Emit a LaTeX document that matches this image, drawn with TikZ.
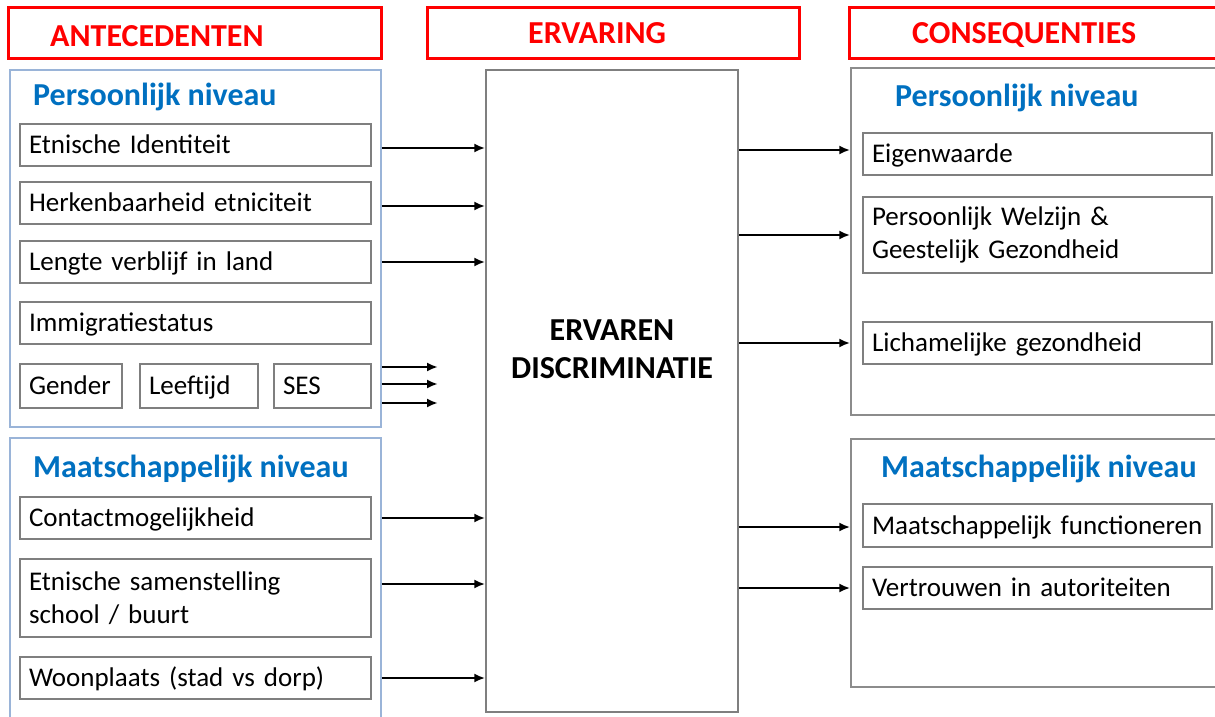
\documentclass[tikz,border=0pt]{standalone}
\usepackage{fontspec}
\setmainfont{Carlito}
\usetikzlibrary{arrows.meta}
\definecolor{kopred}{HTML}{FF0000}
\definecolor{niveaublue}{HTML}{0070C0}
\definecolor{kaderblue}{HTML}{9AB4D8}
\definecolor{kadergray}{HTML}{8C8C8C}
\definecolor{boxgray}{HTML}{7F7F7F}
\begin{document}
\begin{tikzpicture}[x=1pt, y=-1pt,
    kop/.style={draw=kopred, line width=3pt, minimum height=51pt, inner sep=0pt},
    koptekst/.style={text=kopred, font=\fontsize{32}{36}\selectfont\bfseries, inner sep=0pt},
    niveau/.style={text=niveaublue, font=\fontsize{32}{36}\selectfont\bfseries, inner sep=0pt, anchor=west},
    kader/.style={draw=#1, line width=1.5pt, inner sep=0pt},
    factor/.style={draw=boxgray, line width=1.4pt, minimum height=42pt, inner xsep=9pt, inner ysep=0pt,
        text width=#1, align=left, font=\fontsize{27}{32.5}\selectfont},
    enkel/.style={text height=22pt, text depth=5pt},
    pijl/.style={line width=2.2pt, -{Latex[length=11pt,width=9pt]}}]
    \clip (0,0) rectangle (1215,717);
    % kopjes
    \node[kop, minimum width=373pt] (kopA) at (194.5,33.5) {};
    \node[kop, minimum width=372pt] (kopE) at (613,33.5) {};
    \node[kop, minimum width=381pt] (kopC) at (1039.5,33.5) {};
    \node[koptekst, anchor=west] (antTxt) at (50,36) {ANTECEDENTEN};
    \node[koptekst, anchor=west] (ervTxt) at (528,33) {ERVARING};
    \node[koptekst, anchor=west] (conTxt) at (912,35) {CONSEQUENTIES};
    % kaders
    \node[kader=kaderblue, minimum width=371pt, minimum height=357pt] (persL) at (195.5,248.5) {};
    \node[kader=kaderblue, minimum width=371pt, minimum height=302pt] (maatL) at (195.5,589) {};
    \node[kader=boxgray, minimum width=252pt, minimum height=642pt] (centre) at (612,391) {};
    \node[kader=kadergray, minimum width=379pt, minimum height=347pt] (persR) at (1040.5,241.5) {};
    \node[kader=kadergray, minimum width=379pt, minimum height=248pt] (maatR) at (1040.5,563) {};
    \node[niveau] (persLTxt) at (33,97) {Persoonlijk niveau};
    \node[niveau] (maatLTxt) at (33,469) {Maatschappelijk niveau};
    \node[niveau] (persRTxt) at (895,98) {Persoonlijk niveau};
    \node[niveau] (maatRTxt) at (881,469) {Maatschappelijk niveau};
    \node[align=center, inner sep=0pt, font=\fontsize{32}{38}\selectfont\bfseries] (ervaren) at (612,349) {ERVAREN\\DISCRIMINATIE};
    % antecedenten
    \node[factor=333pt, enkel] (ident) at (195.5,145) {Etnische Identiteit};
    \node[factor=333pt, enkel] (herken) at (195.5,203) {Herkenbaarheid etniciteit};
    \node[factor=333pt, enkel] (lengte) at (195.5,262) {Lengte verblijf in land};
    \node[factor=333pt, enkel] (immi) at (195.5,323) {Immigratiestatus};
    \node[factor=84pt, enkel, minimum height=44pt] (gender) at (71,386) {Gender};
    \node[factor=100pt, enkel, minimum height=44pt] (leeftijd) at (199,386) {Leeftijd};
    \node[factor=79pt, enkel, minimum height=44pt] (ses) at (322.5,386) {SES};
    \node[factor=333pt, enkel] (contact) at (195.5,518) {Contactmogelijkheid};
    \node[factor=333pt, minimum height=78pt] (samen) at (195.5,598) {Etnische samenstelling\\school / buurt};
    \node[factor=333pt, enkel] (woon) at (195.5,678) {Woonplaats (stad vs dorp)};
    % consequenties
    \node[factor=331pt, enkel] (eigen) at (1037.5,154) {Eigenwaarde};
    \node[factor=331pt, minimum height=76pt] (welzijn) at (1037.5,235) {Persoonlijk Welzijn \&\\Geestelijk Gezondheid};
    \node[factor=331pt, enkel] (licham) at (1037.5,343) {Lichamelijke gezondheid};
    \node[factor=331pt, enkel, minimum height=43pt] (functie) at (1037.5,525.5) {Maatschappelijk functioneren};
    \node[factor=331pt, enkel] (vertrouw) at (1037.5,588) {Vertrouwen in autoriteiten};
    \coordinate (sesA) at (438,367);
    \coordinate (sesB) at (438,384);
    \coordinate (sesC) at (438,403);
    % pijlen
    \draw[pijl] ([yshift=-3pt]ident.east -| persL.east) -- ([yshift=-3pt]ident.east -| centre.west);
    \draw[pijl] ([yshift=-3pt]herken.east -| persL.east) -- ([yshift=-3pt]herken.east -| centre.west);
    \draw[pijl] (lengte.east -| persL.east) -- (lengte.east -| centre.west);
    \draw[pijl] (sesA -| persL.east) -- (sesA);
    \draw[pijl] (sesB -| persL.east) -- (sesB);
    \draw[pijl] (sesC -| persL.east) -- (sesC);
    \draw[pijl] (contact.east -| maatL.east) -- (contact.east -| centre.west);
    \draw[pijl] ([yshift=14pt]samen.east -| maatL.east) -- ([yshift=14pt]samen.east -| centre.west);
    \draw[pijl] (woon.east -| maatL.east) -- (woon.east -| centre.west);
    \draw[pijl] ([yshift=4pt]eigen.west -| centre.east) -- ([yshift=4pt]eigen.west -| persR.west);
    \draw[pijl] (welzijn.west -| centre.east) -- (welzijn.west -| persR.west);
    \draw[pijl] (licham.west -| centre.east) -- (licham.west -| persR.west);
    \draw[pijl] ([yshift=-1.5pt]functie.west -| centre.east) -- ([yshift=-1.5pt]functie.west -| maatR.west);
    \draw[pijl] (vertrouw.west -| centre.east) -- (vertrouw.west -| maatR.west);
\end{tikzpicture}
\end{document}
